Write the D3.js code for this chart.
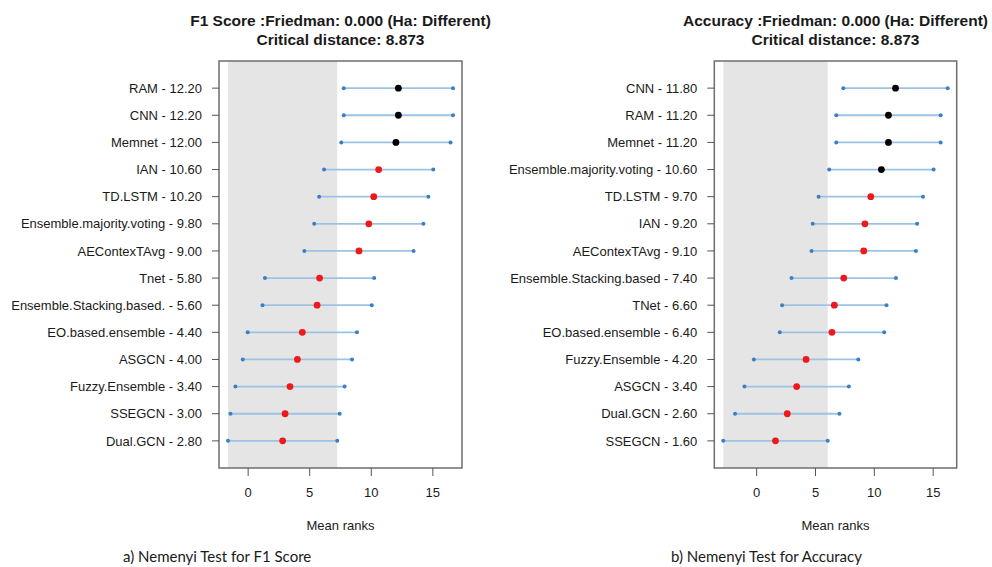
<!DOCTYPE html>
<html>
<head>
<meta charset="utf-8">
<script src="https://cdn.jsdelivr.net/npm/d3@7"></script>
<style>
  body { margin: 0; background: #fff; }
  svg text { font-family: "Liberation Sans", Arial, sans-serif; fill: #1a1a1a; }
  .caption { font-family: Lato, "Open Sans", sans-serif !important; }
</style>
</head>
<body>
<svg id="chart" width="992" height="567"></svg>
<script>
const criticalDistance = 8.873;

const f1Models = ["RAM", "CNN", "Memnet", "IAN", "TD.LSTM", "Ensemble.majority.voting", "AEContexTAvg", "Tnet", "Ensemble.Stacking.based.", "EO.based.ensemble", "ASGCN", "Fuzzy.Ensemble", "SSEGCN", "Dual.GCN"];
const f1Ranks = [12.20, 12.20, 12.00, 10.60, 10.20, 9.80, 9.00, 5.80, 5.60, 4.40, 4.00, 3.40, 3.00, 2.80];

const accModels = ["CNN", "RAM", "Memnet", "Ensemble.majority.voting", "TD.LSTM", "IAN", "AEContexTAvg", "Ensemble.Stacking.based", "TNet", "EO.based.ensemble", "Fuzzy.Ensemble", "ASGCN", "Dual.GCN", "SSEGCN"];
const accRanks = [11.80, 11.20, 11.20, 10.60, 9.70, 9.20, 9.10, 7.40, 6.60, 6.40, 4.20, 3.40, 2.60, 1.60];

const xTicks = [0, 5, 10, 15];

const svg = d3.select("#chart");

function drawPanel(opts) {
    const { models, ranks, left, right, title, caption, captionX } = opts;
    const top = 61, bottom = 468;
    const half = criticalDistance / 2;
    const lo = d3.min(ranks) - half, hi = d3.max(ranks) + half;
    const pad = (hi - lo) * 0.04;

    const x = d3.scaleLinear().domain([lo - pad, hi + pad]).range([left, right]);
    const y = d3.scaleLinear().domain([0, models.length + 1]).range([bottom, top]);
    const n = models.length;
    const rowY = i => y(n - i);
    const minRank = d3.min(ranks);

    const g = svg.append("g");

    // critical distance band around the lowest rank
    g.append("rect")
        .attr("x", x(minRank - half)).attr("y", top)
        .attr("width", x(minRank + half) - x(minRank - half))
        .attr("height", bottom - top)
        .attr("fill", "#e5e5e5");

    const rows = g.selectAll(".row").data(ranks).join("g").attr("class", "row");
    rows.append("line")
        .attr("x1", d => x(d - half)).attr("x2", d => x(d + half))
        .attr("y1", (d, i) => rowY(i)).attr("y2", (d, i) => rowY(i))
        .attr("stroke", "#9cc3e6").attr("stroke-width", 1.8);
    rows.append("circle").attr("cx", d => x(d - half)).attr("cy", (d, i) => rowY(i)).attr("r", 2).attr("fill", "#3a7fc4");
    rows.append("circle").attr("cx", d => x(d + half)).attr("cy", (d, i) => rowY(i)).attr("r", 2).attr("fill", "#3a7fc4");
    rows.append("circle").attr("cx", d => x(d)).attr("cy", (d, i) => rowY(i)).attr("r", 3.4)
        .attr("fill", d => (d - minRank > criticalDistance) ? "#000" : "#f01818");

    // box
    g.append("rect")
        .attr("x", left).attr("y", top).attr("width", right - left).attr("height", bottom - top)
        .attr("fill", "none").attr("stroke", "#6e6e6e").attr("stroke-width", 1.5);

    // y axis
    models.forEach((m, i) => {
        g.append("line").attr("x1", left - 7).attr("x2", left).attr("y1", rowY(i)).attr("y2", rowY(i))
            .attr("stroke", "#555").attr("stroke-width", 1);
        g.append("text").attr("x", left - 17).attr("y", rowY(i)).attr("dy", "0.36em")
            .attr("text-anchor", "end").attr("font-size", 13)
            .text(`${m} - ${ranks[i].toFixed(2)}`);
    });

    // x axis
    xTicks.forEach(t => {
        g.append("line").attr("x1", x(t)).attr("x2", x(t)).attr("y1", bottom).attr("y2", bottom + 8)
            .attr("stroke", "#555").attr("stroke-width", 1);
        g.append("text").attr("x", x(t)).attr("y", 497).attr("text-anchor", "middle")
            .attr("font-size", 13).text(t);
    });

    const cx = (left + right) / 2;
    g.append("text").attr("x", cx).attr("y", 530).attr("text-anchor", "middle").attr("font-size", 13).text("Mean ranks");

    g.append("text").attr("x", cx).attr("y", 25.5).attr("text-anchor", "middle")
        .attr("font-size", 15.5).attr("font-weight", "bold").text(title);
    g.append("text").attr("x", cx).attr("y", 44.5).attr("text-anchor", "middle")
        .attr("font-size", 15.5).attr("font-weight", "bold").text(`Critical distance: ${criticalDistance.toFixed(3)}`);

    g.append("text").attr("class", "caption").attr("x", captionX).attr("y", 562)
        .attr("font-size", 15).text(caption);
}

drawPanel({
    models: f1Models, ranks: f1Ranks, left: 219, right: 462,
    title: "F1 Score :Friedman: 0.000 (Ha: Different)",
    caption: "a) Nemenyi Test for F1 Score", captionX: 123
});

drawPanel({
    models: accModels, ranks: accRanks, left: 714.3, right: 956.7,
    title: "Accuracy :Friedman: 0.000 (Ha: Different)",
    caption: "b) Nemenyi Test for Accuracy", captionX: 671
});
</script>
</body>
</html>
